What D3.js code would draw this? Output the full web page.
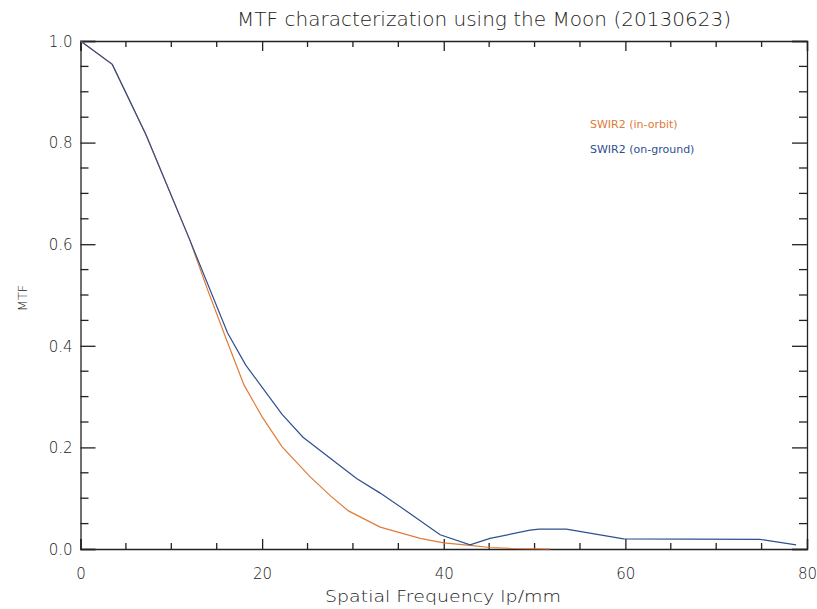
<!DOCTYPE html>
<html>
<head>
<meta charset="utf-8">
<script src="https://cdn.jsdelivr.net/npm/d3@7"></script>
<style>
  html, body { margin: 0; padding: 0; background: #fff; }
  svg { display: block; }
  text { font-family: "DejaVu Sans", sans-serif; fill: #222; }
</style>
</head>
<body>
<svg id="chart" width="817" height="609"></svg>
<script>
const title = "MTF characterization using the Moon (20130623)";
const xLabel = "Spatial Frequency lp/mm";
const yLabel = "MTF";
const seriesNames = ["SWIR2 (in-orbit)", "SWIR2 (on-ground)"];
const seriesColors = ["#e07b39", "#2f4f8f"];

const orbitFreq = [0, 3.5, 7.2, 12, 14, 16.1, 18, 20, 22.2, 25.3, 27.5, 29.5, 33, 37.4, 40, 42.9, 45.1, 47.5, 51.7];
const orbitMTF  = [1.0, 0.954, 0.816, 0.61, 0.51, 0.411, 0.323, 0.26, 0.201, 0.142, 0.105, 0.075, 0.043, 0.021, 0.012, 0.007, 0.003, 0.001, 0.0];

const groundFreq = [0, 3.5, 7.2, 12, 16.2, 18.2, 22.2, 24.5, 30.4, 33, 35.8, 39.6, 42.9, 45.1, 49.5, 50.5, 53.5, 59.8, 74.8, 78.8];
const groundMTF  = [1.0, 0.954, 0.816, 0.61, 0.425, 0.362, 0.265, 0.22, 0.139, 0.11, 0.076, 0.028, 0.008, 0.021, 0.037, 0.039, 0.039, 0.02, 0.019, 0.008];

const xMajor = [0, 20, 40, 60, 80];
const yMajor = [0.0, 0.2, 0.4, 0.6, 0.8, 1.0];

const svg = d3.select("#chart");
const L = 80.5, R = 807, T = 41, B = 549;
const x = d3.scaleLinear().domain([0, 80]).range([L, R]);
const y = d3.scaleLinear().domain([0, 1]).range([B, T]);

const xMinor = d3.range(0, 80.001, 5).filter(v => !xMajor.includes(v));
const yMinor = d3.range(0, 1.0001, 0.05).map(v => +v.toFixed(2)).filter(v => !yMajor.some(m => Math.abs(m - v) < 1e-6));

const axisColor = "#222";
// bottom axis
const xb = d3.axisBottom(x).tickValues(xMajor).tickSize(-10).tickPadding(19).tickFormat(d3.format("d"));
const gxb = svg.append("g").attr("transform", `translate(0,${B})`).call(xb);
gxb.append("g").selectAll("line").data(xMinor).join("line")
  .attr("x1", d => x(d)).attr("x2", d => x(d)).attr("y1", 0).attr("y2", -6);
// top axis
const xt = d3.axisTop(x).tickValues(xMajor).tickSize(-10).tickFormat("");
const gxt = svg.append("g").attr("transform", `translate(0,${T})`).call(xt);
gxt.append("g").selectAll("line").data(xMinor).join("line")
  .attr("x1", d => x(d)).attr("x2", d => x(d)).attr("y1", 0).attr("y2", 6);
// left axis
const yl = d3.axisLeft(y).tickValues(yMajor).tickSize(-15).tickPadding(8).tickFormat(d3.format(".1f"));
const gyl = svg.append("g").attr("transform", `translate(${L},0)`).call(yl);
gyl.append("g").selectAll("line").data(yMinor).join("line")
  .attr("y1", d => y(d)).attr("y2", d => y(d)).attr("x1", 0).attr("x2", 8);
// right axis
const yr = d3.axisRight(y).tickValues(yMajor).tickSize(-15).tickFormat("");
const gyr = svg.append("g").attr("transform", `translate(${R},0)`).call(yr);
gyr.append("g").selectAll("line").data(yMinor).join("line")
  .attr("y1", d => y(d)).attr("y2", d => y(d)).attr("x1", 0).attr("x2", -8);

svg.selectAll(".domain").attr("stroke", axisColor).attr("stroke-width", 1.3);
svg.selectAll("g line").attr("stroke", axisColor).attr("stroke-width", 1.3);
svg.selectAll(".tick text").attr("font-size", 15).attr("fill", "#333")
  .attr("font-family", "DejaVu Sans, sans-serif").attr("font-weight", 300);
gyl.selectAll(".tick text").attr("dy", "0.35em");

// lines
const line = d3.line().x(d => x(d[0])).y(d => y(d[1]));
const orbit = orbitFreq.map((f, i) => [f, orbitMTF[i]]);
const ground = groundFreq.map((f, i) => [f, groundMTF[i]]);
svg.append("path").datum(orbit).attr("d", line).attr("fill", "none")
  .attr("stroke", seriesColors[0]).attr("stroke-width", 1.2);
svg.append("path").datum(ground).attr("d", line).attr("fill", "none")
  .attr("stroke", seriesColors[1]).attr("stroke-width", 1.2);

// title
svg.append("text").attr("x", 484).attr("y", 26).attr("text-anchor", "middle")
  .attr("font-size", 20).attr("font-weight", 300).attr("fill", "#333")
  .attr("textLength", 494).attr("lengthAdjust", "spacingAndGlyphs")
  .text(title);
// axis labels
svg.append("text").attr("x", 443).attr("y", 602).attr("text-anchor", "middle")
  .attr("font-size", 16).attr("font-weight", 300).attr("fill", "#333")
  .attr("textLength", 236).attr("lengthAdjust", "spacingAndGlyphs")
  .text(xLabel);
svg.append("text").attr("transform", "translate(27,298) rotate(-90)").attr("text-anchor", "middle")
  .attr("font-size", 13).attr("font-weight", 300).attr("fill", "#333").text(yLabel);

// legend
seriesNames.forEach((n, i) => {
  svg.append("text").attr("x", 590).attr("y", 128 + i * 25)
    .attr("font-size", 11).style("fill", seriesColors[i]).text(n);
});
</script>
</body>
</html>
